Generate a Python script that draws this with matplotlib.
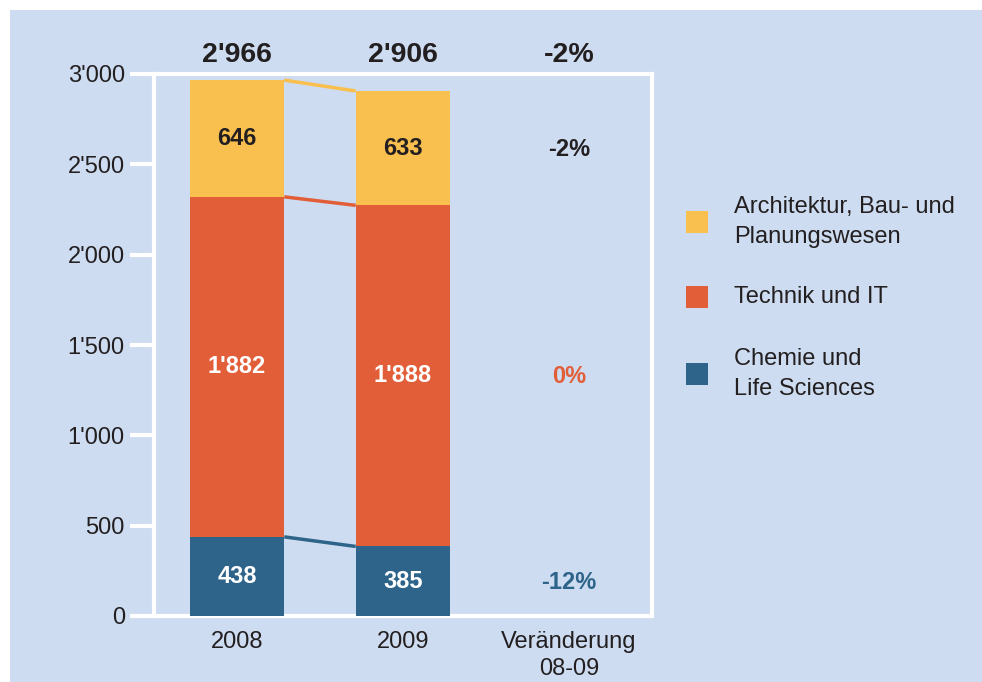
import matplotlib.pyplot as plt
from matplotlib.patches import Rectangle

plt.rcParams['font.family'] = ['Liberation Sans', 'DejaVu Sans']

# Data
years = ['2008', '2009']
x_labels = ['2008', '2009', 'Veränderung\n08-09']
series = ['Chemie und\nLife Sciences', 'Technik und IT', 'Architektur, Bau- und\nPlanungswesen']
values = {
    'Chemie und\nLife Sciences': [438, 385],
    'Technik und IT': [1882, 1888],
    'Architektur, Bau- und\nPlanungswesen': [646, 633],
}
totals = [2966, 2906]
changes = ['-12%', '0%', '-2%']
total_change = '-2%'

colors = ['#2e6489', '#e25e39', '#f9bf4f']
label_colors = ['white', 'white', '#231f20']
change_colors = ['#2e6489', '#e25e39', '#231f20']
bg = '#cddcf0'
ink = '#231f20'


def fmt(v):
    return f"{v:,}".replace(",", "'")


W, H = 982, 682
fig = plt.figure(figsize=(W / 100, H / 100), dpi=100)
fig.patch.set_facecolor('white')
fig.add_artist(Rectangle((10 / W, 0), 1 - 10 / W, 1 - 10 / H, transform=fig.transFigure,
                         facecolor=bg, edgecolor='none', zorder=0))

ax = fig.add_axes([154 / W, 1 - 616 / H, 498 / W, 542 / H])
ax.set_facecolor(bg)
ax.patch.set_alpha(0)

width = 0.57
xs = [0, 1]
bottoms = [0, 0]
for i, name in enumerate(series):
    vals = values[name]
    ax.bar(xs, vals, width=width, bottom=bottoms, color=colors[i], zorder=3)
    for j, v in enumerate(vals):
        ax.text(xs[j], bottoms[j] + v / 2, fmt(v), ha='center', va='center',
                fontsize=17, fontweight='bold', color=label_colors[i], zorder=4)
    new_b = [b + v for b, v in zip(bottoms, vals)]
    # connector between the two bars
    ax.plot([xs[0] + width / 2, xs[1] - width / 2], new_b, color=colors[i], lw=2.5,
            zorder=2, solid_capstyle='butt')
    # change in the third column, level with the 2009 segment
    ax.text(2, bottoms[1] + vals[1] / 2 - 5, changes[i], ha='center', va='center',
            fontsize=17, fontweight='bold', color=change_colors[i])
    bottoms = new_b

for j, t in enumerate(totals):
    ax.text(xs[j], 3105, fmt(t), ha='center', va='center', fontsize=20.5,
            fontweight='bold', color=ink, clip_on=False)
ax.text(2, 3105, total_change, ha='center', va='center', fontsize=20.5,
        fontweight='bold', color=ink, clip_on=False)

ax.set_xlim(-0.5, 2.5)
ax.set_ylim(0, 3000)
ax.set_yticks(range(0, 3001, 500))
ax.set_yticklabels([fmt(v) for v in range(0, 3001, 500)])
ax.set_xticks(range(3))
ax.set_xticklabels(x_labels, linespacing=1.3)

for s in ax.spines.values():
    s.set_color('white')
    s.set_linewidth(3)
ax.tick_params(axis='y', colors='white', length=17, width=3, direction='out',
               pad=4, labelsize=17, labelcolor=ink)
ax.tick_params(axis='x', length=0, pad=11, labelsize=17, labelcolor=ink)

# legend
legend_items = [
    ('Architektur, Bau- und\nPlanungswesen', colors[2], 222),
    ('Technik und IT', colors[1], 297),
    ('Chemie und\nLife Sciences', colors[0], 374),
]
for label, c, yc in legend_items:
    fig.add_artist(Rectangle((686 / W, 1 - (yc + 11) / H), 22 / W, 22 / H,
                             transform=fig.transFigure, facecolor=c, edgecolor='none'))
    fig.text(734 / W, 1 - yc / H, label, ha='left', va='center', fontsize=17,
             color=ink, linespacing=1.45)

fig.savefig('out.png', dpi=100, facecolor=fig.get_facecolor())
